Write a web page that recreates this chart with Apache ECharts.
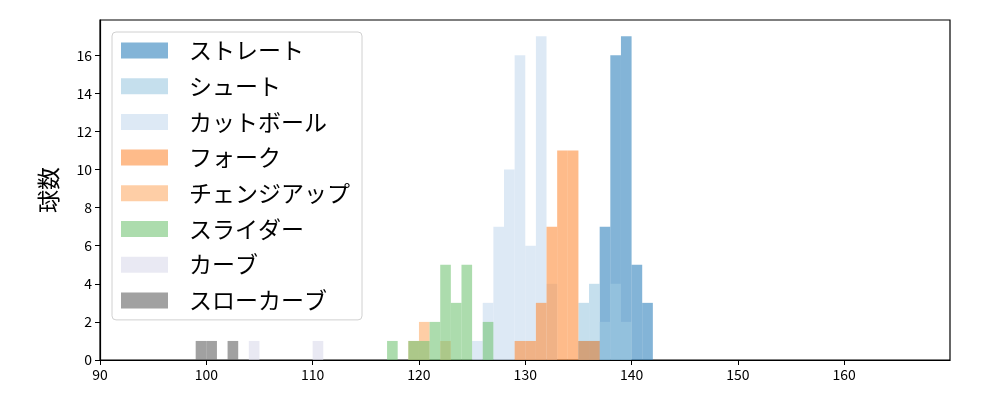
<!DOCTYPE html>
<html>
<head>
<meta charset="utf-8">
<script src="https://cdn.jsdelivr.net/npm/echarts@6/dist/echarts.min.js"></script>
<style>
html,body{margin:0;padding:0;background:#fff;}
#chart{width:1000px;height:400px;}
</style>
</head>
<body>
<div id="chart"></div>
<script>
// ---- data (bin start, counts per pitch type; bin width 1 km/h) ----
const binWidth = 1;
const pitchNames = ['ストレート','シュート','カットボール','フォーク','チェンジアップ','スライダー','カーブ','スローカーブ'];

const straightBins = [135,136,137,138,139,140,141];
const straightCounts = [1,1,7,16,17,5,3];

const shootBins = [135,136,137,138,139];
const shootCounts = [3,4,2,4,2];

const cutBins = [125,126,127,128,129,130,131,132];
const cutCounts = [1,3,7,10,16,6,17,4];

const forkBins = [129,130,131,132,133,134,135,136];
const forkCounts = [1,1,3,7,11,11,1,1];

const changeBins = [119,120,122];
const changeCounts = [1,2,1];

const sliderBins = [117,119,120,121,122,123,124,126];
const sliderCounts = [1,1,1,2,5,3,5,2];

const curveBins = [104,110];
const curveCounts = [1,1];

const slowCurveBins = [99,100,102];
const slowCurveCounts = [1,1,1];

const xTicks = [90,100,110,120,130,140,150,160];
const yTicks = [0,2,4,6,8,10,12,14,16];

// ---- styles ----
const colors = ['#3182bd','#9ecae1','#c6dbef','#fd8d3c','#fdae6b','#74c476','#dadaeb','#636363'];
const alpha = 0.6;
const font = '"Noto Sans CJK JP", "Noto Sans", sans-serif';

const binsList = [straightBins, shootBins, cutBins, forkBins, changeBins, sliderBins, curveBins, slowCurveBins];
const countsList = [straightCounts, shootCounts, cutCounts, forkCounts, changeCounts, sliderCounts, curveCounts, slowCurveCounts];

function renderItem(params, api) {
  const x0 = api.value(0);
  const c = api.value(1);
  const p0 = api.coord([x0, 0]);
  const p1 = api.coord([x0 + binWidth, c]);
  return {
    type: 'rect',
    shape: { x: p0[0], y: p1[1], width: p1[0] - p0[0], height: p0[1] - p1[1] },
    style: { fill: api.visual('color'), opacity: alpha }
  };
}

const series = pitchNames.map((name, i) => ({
  name: name,
  type: 'custom',
  renderItem: renderItem,
  itemStyle: { color: colors[i], opacity: alpha },
  encode: { x: 0, y: 1 },
  data: binsList[i].map((b, j) => [b, countsList[i][j]]),
  z: 2 + i
}));

const chart = echarts.init(document.getElementById('chart'), null, { renderer: 'canvas' });
chart.setOption({
  animation: false,
  textStyle: { fontFamily: font },
  grid: {
    left: 100, right: 50, top: 20, bottom: 40,
    show: true, borderColor: '#000', borderWidth: 1.2, backgroundColor: 'transparent'
  },
  legend: {
    orient: 'vertical',
    left: 112, top: 32,
    itemWidth: 47, itemHeight: 16, itemGap: 12.7,
    padding: [7, 12, 8, 9],
    borderColor: '#d0d0d0', borderWidth: 1, borderRadius: 4,
    backgroundColor: 'rgba(255,255,255,0.8)',
    icon: 'rect',
    textStyle: { fontSize: 23, color: '#000', fontFamily: font, padding: [0, 0, 0, 16] },
    data: pitchNames.map((n, i) => ({ name: n, itemStyle: { color: colors[i], opacity: alpha } })),
    z: 20
  },
  xAxis: {
    type: 'value', min: 90, max: 169.95, interval: 10,
    axisLine: { show: true, lineStyle: { color: '#000', width: 1.2 } },
    axisTick: { show: true, length: 5, lineStyle: { color: '#000' }, customValues: xTicks },
    axisLabel: { fontSize: 14, color: '#000', margin: 8, fontFamily: font, customValues: xTicks },
    splitLine: { show: false }
  },
  yAxis: {
    type: 'value', min: 0, max: 17.85, interval: 2,
    name: '球数', nameLocation: 'middle', nameRotate: 90, nameGap: 40,
    nameTextStyle: { fontSize: 23, color: '#000', fontFamily: font },
    axisLine: { show: true, lineStyle: { color: '#000', width: 1.2 } },
    axisTick: { show: true, length: 5, lineStyle: { color: '#000' }, customValues: yTicks },
    axisLabel: { fontSize: 14, color: '#000', margin: 8, fontFamily: font, customValues: yTicks },
    splitLine: { show: false }
  },
  series: series
});
</script>
</body>
</html>
